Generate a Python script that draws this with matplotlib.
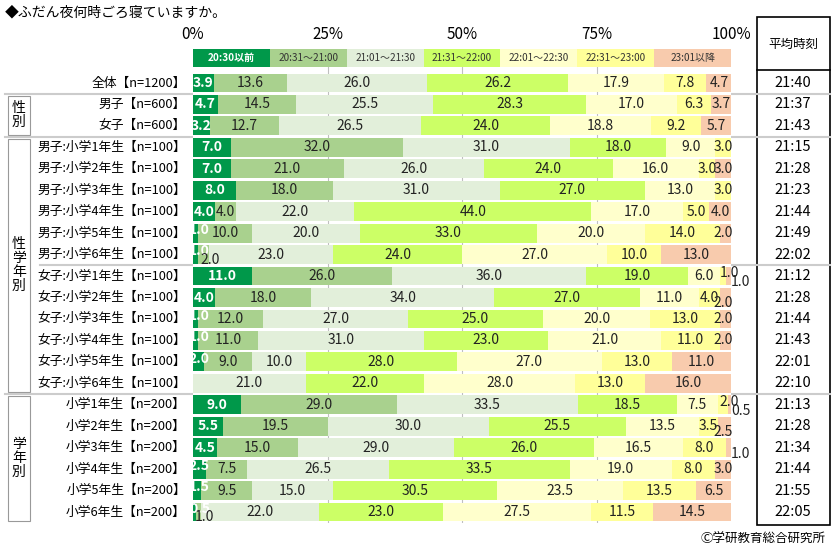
import numpy as np
import matplotlib
matplotlib.use('Agg')
import matplotlib.pyplot as plt
from matplotlib.patches import Rectangle

plt.rcParams['font.family'] = ['Noto Sans CJK JP', 'DejaVu Sans']

# データ
categories = ['20:30以前', '20:31～21:00', '21:01～21:30', '21:31～22:00',
              '22:01～22:30', '22:31～23:00', '23:01以降']
row_labels = ['全体【n=1200】', '男子【n=600】', '女子【n=600】',
              '男子:小学1年生【n=100】', '男子:小学2年生【n=100】', '男子:小学3年生【n=100】',
              '男子:小学4年生【n=100】', '男子:小学5年生【n=100】', '男子:小学6年生【n=100】',
              '女子:小学1年生【n=100】', '女子:小学2年生【n=100】', '女子:小学3年生【n=100】',
              '女子:小学4年生【n=100】', '女子:小学5年生【n=100】', '女子:小学6年生【n=100】',
              '小学1年生【n=200】', '小学2年生【n=200】', '小学3年生【n=200】',
              '小学4年生【n=200】', '小学5年生【n=200】', '小学6年生【n=200】']
values = [
    [3.9, 13.6, 26.0, 26.2, 17.9, 7.8, 4.7],
    [4.7, 14.5, 25.5, 28.3, 17.0, 6.3, 3.7],
    [3.2, 12.7, 26.5, 24.0, 18.8, 9.2, 5.7],
    [7.0, 32.0, 31.0, 18.0, 9.0, 3.0, 0.0],
    [7.0, 21.0, 26.0, 24.0, 16.0, 3.0, 3.0],
    [8.0, 18.0, 31.0, 27.0, 13.0, 3.0, 0.0],
    [4.0, 4.0, 22.0, 44.0, 17.0, 5.0, 4.0],
    [1.0, 10.0, 20.0, 33.0, 20.0, 14.0, 2.0],
    [1.0, 2.0, 23.0, 24.0, 27.0, 10.0, 13.0],
    [11.0, 26.0, 36.0, 19.0, 6.0, 1.0, 1.0],
    [4.0, 18.0, 34.0, 27.0, 11.0, 4.0, 2.0],
    [1.0, 12.0, 27.0, 25.0, 20.0, 13.0, 2.0],
    [1.0, 11.0, 31.0, 23.0, 21.0, 11.0, 2.0],
    [2.0, 9.0, 10.0, 28.0, 27.0, 13.0, 11.0],
    [0.0, 0.0, 21.0, 22.0, 28.0, 13.0, 16.0],
    [9.0, 29.0, 33.5, 18.5, 7.5, 2.0, 0.5],
    [5.5, 19.5, 30.0, 25.5, 13.5, 3.5, 2.5],
    [4.5, 15.0, 29.0, 26.0, 16.5, 8.0, 1.0],
    [2.5, 7.5, 26.5, 33.5, 19.0, 8.0, 3.0],
    [1.5, 9.5, 15.0, 30.5, 23.5, 13.5, 6.5],
    [0.5, 1.0, 22.0, 23.0, 27.5, 11.5, 14.5],
]
avg_times = ['21:40', '21:37', '21:43', '21:15', '21:28', '21:23', '21:44', '21:49', '22:02',
             '21:12', '21:28', '21:44', '21:43', '22:01', '22:10',
             '21:13', '21:28', '21:34', '21:44', '21:55', '22:05']
groups = [('性\n別', 1, 2), ('性\n学\n年\n別', 3, 14), ('学\n年\n別', 15, 20)]

colors = ['#00984a', '#a9d18e', '#e2efda', '#ccff66', '#ffffcc', '#ffff99', '#f8cbad']

W, H = 832, 549
fig = plt.figure(figsize=(W / 100, H / 100), dpi=100)

def py(i):
    return 83 + 21.45 * i

y_top, y_bot = -1.6, 20.5
ax = fig.add_axes([193 / W, 1 - py(y_bot) / H, (731 - 193) / W, (py(y_bot) - py(y_top)) / H])
ax.set_xlim(0, 100)
ax.set_ylim(y_bot, y_top)
for s in ax.spines.values():
    s.set_visible(False)
ax.set_yticks([])
ax.xaxis.tick_top()
ax.set_xticks([0, 25, 50, 75, 100])
ax.set_xticklabels(['0%', '25%', '50%', '75%', '100%'], fontsize=11)
ax.tick_params(axis='x', length=0, pad=4)
for g in [25, 50, 75]:
    ax.axvline(g, color='#bfbfbf', lw=0.8, zorder=0)

# 凡例行
leg_y = -1.15
for k, c in enumerate(categories):
    ax.barh(leg_y, 100 / 7, left=k * 100 / 7, height=0.85, color=colors[k], zorder=2)
    ax.text(k * 100 / 7 + 50 / 7, leg_y, c, ha='center', va='center', fontsize=7.2,
            color='white' if k == 0 else '#333333', fontweight='bold' if k == 0 else 'normal', zorder=3)

vals = np.array(values)
for i, row in enumerate(vals):
    left = 0
    for k, v in enumerate(row):
        if v > 0:
            ax.barh(i, v, left=left, height=0.88, color=colors[k], zorder=2)
            x = left + v / 2
            dy = 0
            if v < 3:
                if k == 0:
                    x = left + 1.2
                    dy = -0.15
                elif k == 6:
                    if v <= 1:
                        x = 101.8
                        dy = 0.3
                    else:
                        x = 98.6
                        dy = 0.25 if row[5] < 5 else 0
                else:
                    x = left + v / 2 + 1.2
                    dy = 0.25 if k != 5 else -0.15
            ax.text(x, i + dy, f'{v:.1f}', ha='center', va='center', fontsize=10,
                    color='white' if k == 0 else '#222222', fontweight='bold' if k == 0 else 'normal',
                    zorder=4, clip_on=False)
        left += v

# 全体座標のオーバーレイ
ov = fig.add_axes([0, 0, 1, 1], zorder=-1)
ov.set_xlim(0, W)
ov.set_ylim(H, 0)
ov.axis('off')
ov.patch.set_alpha(0)

fig.text(5 / W, 1 - 13 / H, '◆ふだん夜何時ごろ寝ていますか。', fontsize=10, va='center')
for i, lab in enumerate(row_labels):
    fig.text(186 / W, 1 - py(i) / H, lab, ha='right', va='center', fontsize=9.2)
    fig.text(793 / W, 1 - py(i) / H, avg_times[i], ha='center', va='center', fontsize=10.5)

for b in [0.5, 2.5, 8.5, 14.5]:
    x0 = 5 if b != 8.5 else 40
    ov.plot([x0, 755], [py(b), py(b)], color='#cccccc', lw=1.5)
    ov.plot([757, 830], [py(b), py(b)], color='#cccccc', lw=1.5)

for name, a, b in groups:
    y0, y1 = py(a - 0.5) + 2, py(b + 0.5) - 2
    ov.add_patch(Rectangle((8, y0), 22, y1 - y0, fill=False, ec='#999999', lw=0.8))
    fig.text(19 / W, 1 - (y0 + y1) / 2 / H, name, ha='center', va='center', fontsize=10, linespacing=1.0)

# 平均時刻の枠
ov.add_patch(Rectangle((757, 17), 73, py(20.5) + 2 - 17, fill=False, ec='black', lw=1.2))
ov.plot([757, 830], [70, 70], color='black', lw=1.2)
fig.text(793 / W, 1 - 44 / H, '平均時刻', ha='center', va='center', fontsize=9)

fig.text(826 / W, 1 - 539 / H, 'Ⓒ学研教育総合研究所', ha='right', va='center', fontsize=9)

fig.savefig('out.png', dpi=100)
